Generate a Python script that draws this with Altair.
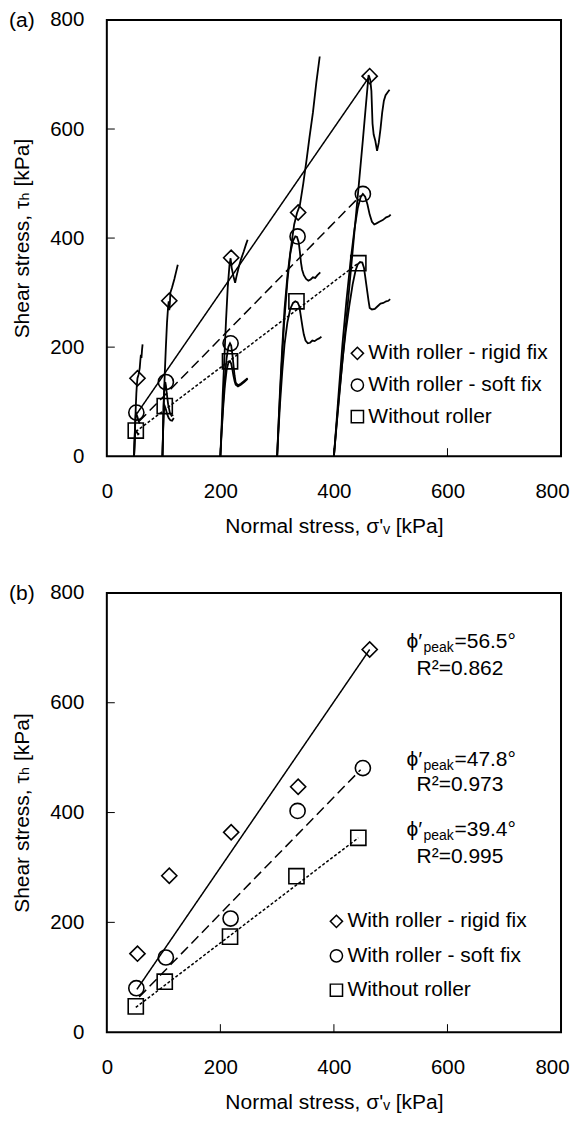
import altair as alt
import pandas as pd

FONT = "Liberation Sans, Arial, DejaVu Sans, sans-serif"

# ---------------- data ----------------
series = ["With roller - rigid fix", "With roller - soft fix", "Without roller"]
shapes = ["diamond", "circle", "square"]
dashes = [[1, 0], [10, 5], [3, 2]]

# peak points (sigma'v, tau_h) [kPa]
rigid_sigma = [54, 110, 219, 337, 463]
rigid_tau = [143, 285, 364, 447, 697]
soft_sigma = [52, 104, 218, 336, 451]
soft_tau = [80, 136, 207, 403, 481]
noroll_sigma = [51, 102, 217, 334, 443]
noroll_tau = [47, 92, 174, 284, 354]

# fitted failure envelopes (start / end points)
fit_sigma_start = [53, 57, 51]
fit_tau_start = [78, 64, 45]
fit_sigma_end = [463, 447, 443]
fit_tau_end = [697, 478, 354]

# annotation values
phi_peak = ["56.5", "47.8", "39.4"]
r_squared = ["0.862", "0.973", "0.995"]

x_ticks = [0, 200, 400, 600, 800]
y_ticks = [0, 200, 400, 600, 800]
inner_ticks = [200, 400, 600]

# stress paths of panel (a): with roller - rigid fix
r50_s = [48, 49, 50, 51, 52, 53, 54, 56, 58, 59, 60, 61, 62, 63]
r50_t = [0, 30, 60, 90, 115, 132, 143, 150, 162, 175, 186, 180, 195, 205]
r100_s = [98, 99, 100, 102, 104, 106, 108, 109, 110, 111, 112, 115, 119, 122, 125]
r100_t = [0, 40, 90, 150, 200, 245, 275, 284, 268, 280, 300, 310, 325, 338, 351]
r200_s = [200, 202, 204, 207, 210, 213, 216, 218, 220, 223, 226, 228, 232, 236, 241, 245, 248]
r200_t = [0, 50, 110, 180, 250, 310, 350, 363, 345, 330, 318, 328, 345, 360, 375, 388, 397]
r300_s = [300, 303, 307, 312, 318, 324, 330, 335, 340, 346, 352, 357, 363, 369, 375]
r300_t = [0, 70, 150, 240, 320, 380, 425, 446, 460, 500, 545, 585, 630, 685, 733]
r400_s = [400, 405, 412, 420, 428, 436, 444, 451, 456, 459, 461, 464, 466, 467, 468, 470,
          473, 476, 479, 482, 485, 488, 491, 495, 498]
r400_t = [0, 60, 140, 230, 320, 410, 500, 580, 640, 675, 699, 690, 670, 640, 610, 590,
          578, 560, 575, 600, 630, 652, 662, 668, 672]

# with roller - soft fix
s50_s = [48, 49, 50, 51, 52, 54, 56, 58]
s50_t = [0, 35, 62, 76, 78, 72, 64, 60]
s100_s = [98, 99, 100, 101, 102, 103, 104, 106, 108, 111, 114, 117]
s100_t = [0, 45, 90, 118, 132, 136, 130, 112, 95, 80, 74, 76]
s200_s = [200, 202, 205, 208, 211, 214, 217, 219, 221, 223, 225, 227, 231, 236, 242, 248]
s200_t = [0, 45, 100, 145, 180, 200, 207, 203, 188, 168, 148, 135, 130, 133, 138, 143]
s300_s = [300, 302, 305, 309, 313, 318, 323, 328, 332, 335, 338, 340, 342, 344, 347, 351,
          355, 359, 363, 367, 371, 376]
s300_t = [0, 50, 120, 200, 270, 330, 372, 395, 403, 402, 392, 375, 355, 342, 332, 325,
          322, 324, 328, 327, 332, 337]
s400_s = [400, 404, 409, 415, 422, 429, 436, 442, 447, 451, 455, 459, 463, 467, 471, 475,
          480, 486, 492, 497, 500]
s400_t = [0, 55, 125, 205, 285, 355, 415, 455, 475, 481, 476, 462, 443, 430, 425, 427,
          430, 433, 438, 440, 443]

# without roller
w50_s = [48, 49, 50, 51, 53, 55, 57]
w50_t = [0, 25, 42, 47, 44, 40, 42]
w100_s = [98, 99, 100, 101, 102, 104, 106, 109, 112, 115, 118]
w100_t = [0, 40, 75, 88, 92, 86, 78, 70, 66, 65, 70]
w200_s = [200, 202, 205, 208, 211, 214, 217, 219, 221, 223, 225, 227, 231, 236, 242, 248]
w200_t = [0, 40, 90, 130, 158, 171, 174, 170, 160, 148, 138, 131, 128, 131, 136, 142]
w300_s = [300, 302, 305, 309, 313, 318, 323, 328, 332, 336, 339, 341, 343, 345, 347, 350,
          354, 358, 362, 366, 370, 374, 378]
w300_t = [0, 40, 95, 155, 205, 245, 270, 281, 284, 282, 275, 262, 248, 235, 223, 212,
          207, 208, 212, 211, 214, 216, 219]
w400_s = [400, 404, 409, 415, 421, 427, 433, 438, 442, 446, 450, 453, 455, 457, 459, 461,
          463, 467, 472, 477, 482, 487, 492, 496, 499]
w400_t = [0, 50, 110, 175, 230, 275, 315, 340, 352, 356, 355, 345, 330, 315, 300, 285,
          272, 269, 270, 275, 280, 281, 284, 285, 288]

# ---------------- tables ----------------
curve_list = [
    ("r50", r50_s, r50_t), ("r100", r100_s, r100_t), ("r200", r200_s, r200_t),
    ("r300", r300_s, r300_t), ("r400", r400_s, r400_t),
    ("s50", s50_s, s50_t), ("s100", s100_s, s100_t), ("s200", s200_s, s200_t),
    ("s300", s300_s, s300_t), ("s400", s400_s, s400_t),
    ("w50", w50_s, w50_t), ("w100", w100_s, w100_t), ("w200", w200_s, w200_t),
    ("w300", w300_s, w300_t), ("w400", w400_s, w400_t),
]
rows = []
for name, ss, tt in curve_list:
    for i, (s, t) in enumerate(zip(ss, tt)):
        rows.append({"curve": name, "order": i, "sigma": s, "tau": t})
curves_df = pd.DataFrame(rows)

pts = []
for ser, ss, tt in zip(series, [rigid_sigma, soft_sigma, noroll_sigma],
                       [rigid_tau, soft_tau, noroll_tau]):
    for s, t in zip(ss, tt):
        pts.append({"series": ser, "sigma": s, "tau": t})
points_df = pd.DataFrame(pts)

fits = []
for i, ser in enumerate(series):
    fits.append({"series": ser, "order": 0, "sigma": fit_sigma_start[i], "tau": fit_tau_start[i]})
    fits.append({"series": ser, "order": 1, "sigma": fit_sigma_end[i], "tau": fit_tau_end[i]})
fits_df = pd.DataFrame(fits)

ann_df = pd.DataFrame({
    "sigma": [528, 528, 528],
    "tau_phi": [711, 496, 369],
    "tau_r2": [662, 451, 319],
    "eq": ["=" + v + "°" for v in phi_peak],
    "r2": ["R²=" + v for v in r_squared],
})

ticks_df = pd.DataFrame({"sigma": inner_ticks, "tau": inner_ticks})

# ---------------- encodings ----------------
W = 455
X = alt.X("sigma:Q", scale=alt.Scale(domain=[0, 800], nice=False, zero=False),
          axis=alt.Axis(values=x_ticks, title="Normal stress, σ'ᵥ [kPa]", grid=False,
                        ticks=False, tickSize=0, domain=False, labelPadding=25,
                        titlePadding=14, labelFontSize=20.5, titleFontSize=21,
                        labelFont=FONT, titleFont=FONT, labelColor="black",
                        titleColor="black", titleFontWeight="normal", labelFlush=False,
                        labelOffset={"condition": {"test": "datum.value == 800", "value": -9},
                                     "value": 0}))
Y = alt.Y("tau:Q", scale=alt.Scale(domain=[0, 800], nice=False, zero=False),
          axis=alt.Axis(values=y_ticks, title="Shear stress, τₕ [kPa]", grid=False,
                        ticks=False, tickSize=0, domain=False, labelPadding=23,
                        titlePadding=17, labelFontSize=20.5, titleFontSize=21,
                        labelFont=FONT, titleFont=FONT, labelColor="black",
                        titleColor="black", titleFontWeight="normal", labelFlush=False))
SHAPE_SCALE = alt.Scale(domain=series, range=shapes)


def legend_layers(x0, y0, dy, text_dx):
    leg = pd.DataFrame({"series": series, "row": [0, 1, 2]})
    leg["py"] = y0 + leg["row"] * dy
    sym = alt.Chart(leg).mark_point(filled=False, size=150, strokeWidth=1.5,
                                    color="black", opacity=1).encode(
        x=alt.value(x0), y=alt.Y("py:Q", scale=None, axis=None),
        shape=alt.Shape("series:N", scale=SHAPE_SCALE, legend=None))
    txt = alt.Chart(leg).mark_text(align="left", baseline="middle", font=FONT, fontSize=21,
                                   color="black").encode(
        x=alt.value(x0 + text_dx), y=alt.Y("py:Q", scale=None, axis=None), text="series:N")
    return [sym, txt]


def panel(letter, H, leg, with_curves, with_ann):
    layers = []
    if with_curves:
        layers.append(alt.Chart(curves_df).mark_line(color="black", strokeWidth=1.8).encode(
            x=X, y=Y, detail="curve:N", order="order:Q"))
    layers.append(alt.Chart(fits_df).mark_line(color="black", strokeWidth=1.5).encode(
        x=X, y=Y, detail="series:N", order="order:Q",
        strokeDash=alt.StrokeDash("series:N", scale=alt.Scale(domain=series, range=dashes),
                                  legend=None)))
    layers.append(alt.Chart(points_df).mark_point(filled=False, size=230, strokeWidth=1.6,
                                                  color="black", opacity=1).encode(
        x=X, y=Y, shape=alt.Shape("series:N", scale=SHAPE_SCALE, legend=None)))
    # inner tick marks
    layers.append(alt.Chart(ticks_df).mark_rule(color="black", strokeWidth=1).encode(
        y=Y, x=alt.value(0), x2=alt.value(8)))
    layers.append(alt.Chart(ticks_df).mark_rule(color="black", strokeWidth=1).encode(
        x=X, y=alt.value(H), y2=alt.value(H - 8)))
    if with_ann:
        yphi = alt.Y("tau_phi:Q", scale=alt.Scale(domain=[0, 800], nice=False))
        layers.append(alt.Chart(ann_df).mark_text(align="left", baseline="middle", font=FONT,
                                                  fontSize=21, color="black").encode(
            x=X, y=yphi, text="p:N").transform_calculate(p="'ϕ′'"))
        layers.append(alt.Chart(ann_df).mark_text(align="left", baseline="middle", font=FONT,
                                                  fontSize=14, color="black", dx=17, dy=6).encode(
            x=X, y=yphi, text="p:N").transform_calculate(p="'peak'"))
        layers.append(alt.Chart(ann_df).mark_text(align="left", baseline="middle", font=FONT,
                                                  fontSize=21, color="black", dx=48).encode(
            x=X, y=yphi, text="eq:N"))
        layers.append(alt.Chart(ann_df).mark_text(align="left", baseline="middle", font=FONT,
                                                  fontSize=21, color="black", dx=10).encode(
            x=X, y=alt.Y("tau_r2:Q", scale=alt.Scale(domain=[0, 800], nice=False)),
            text="r2:N"))
    layers += legend_layers(*leg)
    # panel letter
    layers.append(alt.Chart(pd.DataFrame({"t": [letter]})).mark_text(
        align="left", baseline="middle", font=FONT, fontSize=21, color="black").encode(
        x=alt.value(-98), y=alt.value(1), text="t:N"))
    return alt.layer(*layers).properties(width=W, height=H)


pa = panel("(a)", 437, (251, 334, 31.7, 11), True, False)
pb = panel("(b)", 440, (230, 329, 34.5, 11), False, True)

chart = alt.vconcat(pa, pb, spacing=44, padding=0, background="white").configure_view(
    stroke="black", strokeWidth=2
)

chart.save("out.html", embed_options={"renderer": "svg", "actions": False})
